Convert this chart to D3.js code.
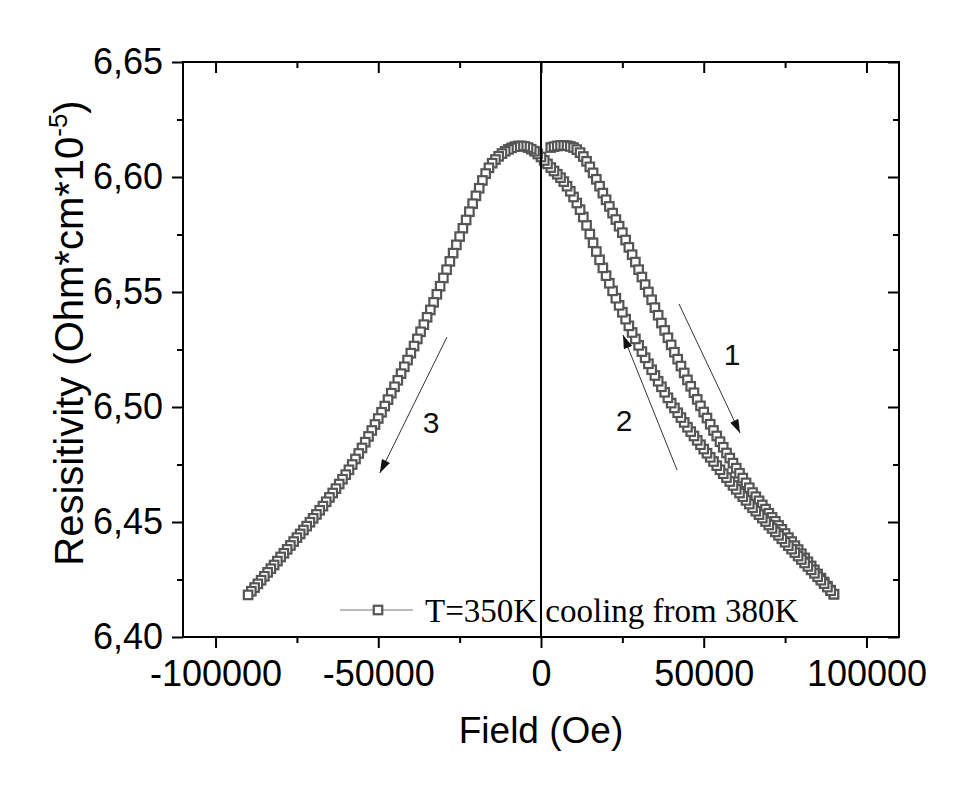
<!DOCTYPE html>
<html>
<head>
<meta charset="utf-8">
<script src="https://cdn.jsdelivr.net/npm/d3@7"></script>
<style>
  body { margin: 0; background: #fff; }
  svg { display: block; }
</style>
</head>
<body>
<div id="chart"></div>
<script>
// R(H) butterfly loop at T=350K: first sweep up to +90 kOe, then back down to -90 kOe.
// Field values in kOe (axis is in Oe), resistivity in Ohm*cm*1e-5.

const fieldUpKOe = [
  3, 4, 5, 6, 7, 8, 9, 10, 11, 12,
  13, 14, 15, 16, 17, 18, 19, 20, 21, 22,
  23, 24, 25, 26, 27, 28, 29, 30, 31, 32,
  33, 34, 35, 36, 37, 38, 39, 40, 41, 42,
  43, 44, 45, 46, 47, 48, 49, 50, 51, 52,
  53, 54, 55, 56, 57, 58, 59, 60, 61, 62,
  63, 64, 65, 66, 67, 68, 69, 70, 71, 72,
  73, 74, 75, 76, 77, 78, 79, 80, 81, 82,
  83, 84, 85, 86, 87, 88, 89, 90
];
const rhoUp = [
  6.6128, 6.6132, 6.6135, 6.6137, 6.6137, 6.6136, 6.6133, 6.6128, 6.6119, 6.6106,
  6.6089, 6.6068, 6.6044, 6.6018, 6.5990, 6.5960, 6.5930, 6.5901, 6.5872, 6.5843,
  6.5815, 6.5786, 6.5758, 6.5726, 6.5694, 6.5662, 6.5630, 6.5597, 6.5565, 6.5532,
  6.5500, 6.5466, 6.5432, 6.5399, 6.5365, 6.5333, 6.5301, 6.5270, 6.5238, 6.5208,
  6.5178, 6.5148, 6.5118, 6.5090, 6.5062, 6.5033, 6.5005, 6.4978, 6.4952, 6.4925,
  6.4898, 6.4874, 6.4849, 6.4825, 6.4800, 6.4778, 6.4756, 6.4734, 6.4712, 6.4691,
  6.4670, 6.4649, 6.4628, 6.4610, 6.4592, 6.4574, 6.4556, 6.4538, 6.4520, 6.4503,
  6.4485, 6.4468, 6.4450, 6.4432, 6.4415, 6.4397, 6.4380, 6.4362, 6.4344, 6.4327,
  6.4309, 6.4292, 6.4274, 6.4256, 6.4239, 6.4221, 6.4204, 6.4186
];

const fieldDownKOe = [
  90, 89, 88, 87, 86, 85, 84, 83, 82, 81,
  80, 79, 78, 77, 76, 75, 74, 73, 72, 71,
  70, 69, 68, 67, 66, 65, 64, 63, 62, 61,
  60, 59, 58, 57, 56, 55, 54, 53, 52, 51,
  50, 49, 48, 47, 46, 45, 44, 43, 42, 41,
  40, 39, 38, 37, 36, 35, 34, 33, 32, 31,
  30, 29, 28, 27, 26, 25, 24, 23, 22, 21,
  20, 19, 18, 17, 16, 15, 14, 13, 12, 11,
  10, 9, 8, 7, 6, 5, 4, 3, 2, 1,
  0, -1, -2, -3, -4, -5, -6, -7, -8, -9,
  -10, -11, -12, -13, -14, -15, -16, -17, -18, -19,
  -20, -21, -22, -23, -24, -25, -26, -27, -28, -29,
  -30, -31, -32, -33, -34, -35, -36, -37, -38, -39,
  -40, -41, -42, -43, -44, -45, -46, -47, -48, -49,
  -50, -51, -52, -53, -54, -55, -56, -57, -58, -59,
  -60, -61, -62, -63, -64, -65, -66, -67, -68, -69,
  -70, -71, -72, -73, -74, -75, -76, -77, -78, -79,
  -80, -81, -82, -83, -84, -85, -86, -87, -88, -89,
  -90
];
const rhoDown = [
  6.4186, 6.4201, 6.4217, 6.4232, 6.4247, 6.4262, 6.4277, 6.4292, 6.4307, 6.4322,
  6.4337, 6.4352, 6.4367, 6.4382, 6.4397, 6.4412, 6.4427, 6.4442, 6.4457, 6.4472,
  6.4487, 6.4502, 6.4517, 6.4532, 6.4547, 6.4562, 6.4578, 6.4594, 6.4610, 6.4626,
  6.4642, 6.4659, 6.4676, 6.4693, 6.4710, 6.4727, 6.4745, 6.4763, 6.4781, 6.4799,
  6.4817, 6.4836, 6.4855, 6.4874, 6.4893, 6.4912, 6.4933, 6.4954, 6.4975, 6.4996,
  6.5017, 6.5040, 6.5064, 6.5088, 6.5112, 6.5137, 6.5162, 6.5188, 6.5214, 6.5241,
  6.5268, 6.5296, 6.5324, 6.5353, 6.5382, 6.5412, 6.5442, 6.5473, 6.5505, 6.5538,
  6.5571, 6.5605, 6.5640, 6.5676, 6.5714, 6.5752, 6.5790, 6.5826, 6.5858, 6.5887,
  6.5913, 6.5938, 6.5960, 6.5980, 6.5997, 6.6012, 6.6026, 6.6041, 6.6057, 6.6072,
  6.6087, 6.6100, 6.6112, 6.6121, 6.6128, 6.6133, 6.6135, 6.6135, 6.6132, 6.6127,
  6.6120, 6.6112, 6.6102, 6.6090, 6.6076, 6.6060, 6.6040, 6.6015, 6.5985, 6.5951,
  6.5918, 6.5884, 6.5849, 6.5813, 6.5777, 6.5741, 6.5705, 6.5669, 6.5633, 6.5597,
  6.5561, 6.5525, 6.5490, 6.5455, 6.5422, 6.5390, 6.5358, 6.5327, 6.5296, 6.5265,
  6.5234, 6.5204, 6.5175, 6.5145, 6.5116, 6.5088, 6.5060, 6.5032, 6.5004, 6.4977,
  6.4950, 6.4924, 6.4898, 6.4872, 6.4847, 6.4822, 6.4798, 6.4774, 6.4750, 6.4727,
  6.4706, 6.4686, 6.4665, 6.4645, 6.4626, 6.4607, 6.4588, 6.4569, 6.4551, 6.4533,
  6.4516, 6.4499, 6.4482, 6.4465, 6.4448, 6.4432, 6.4415, 6.4398, 6.4381, 6.4364,
  6.4348, 6.4330, 6.4313, 6.4297, 6.4281, 6.4264, 6.4247, 6.4231, 6.4215, 6.4199,
  6.4183
];

const xTicks = [-100000, -50000, 0, 50000, 100000];
const xMinorTicks = [-75000, -25000, 25000, 75000];
const yTicks = [6.40, 6.45, 6.50, 6.55, 6.60, 6.65];
const yTickLabels = ['6,40', '6,45', '6,50', '6,55', '6,60', '6,65'];
const yMinorTicks = [6.425, 6.475, 6.525, 6.575, 6.625];

// sweep-direction arrows, in data units (field Oe, resistivity)
const sweepArrows = [
  { label: '1', from: [42400, 6.5448], to: [61150, 6.4887], at: [58700, 6.5183] },
  { label: '2', from: [41800, 6.4726], to: [25200, 6.5313], at: [25500, 6.4896] },
  { label: '3', from: [-28900, 6.5304], to: [-49500, 6.4713], at: [-33800, 6.4887] }
];
const legendLabel = 'T=350K cooling from 380K';

const width = 968, height = 791;
const margin = { top: 62, right: 69, bottom: 154, left: 183 };
const W = width - margin.left - margin.right;
const H = height - margin.top - margin.bottom;
const sans = '"Liberation Sans", Arial, Helvetica, sans-serif';
const serif = '"Liberation Serif", "Times New Roman", serif';
const markColor = '#555';

const x = d3.scaleLinear().domain([-110000, 110000]).range([0, W]);
const y = d3.scaleLinear().domain([6.40, 6.65]).range([H, 0]);

const svg = d3.select('#chart').append('svg')
  .attr('width', width).attr('height', height)
  .style('font-family', sans);

const defs = svg.append('defs');
defs.append('marker')
  .attr('id', 'head')
  .attr('viewBox', '0 0 12 8')
  .attr('refX', 12).attr('refY', 4)
  .attr('markerUnits', 'userSpaceOnUse')
  .attr('markerWidth', 14).attr('markerHeight', 9)
  .attr('orient', 'auto')
  .append('path').attr('d', 'M0,0L12,4L0,8Z').attr('fill', '#111');

const g = svg.append('g').attr('transform', `translate(${margin.left},${margin.top})`);

function styleAxis(sel) {
  sel.select('.domain').remove();
  sel.selectAll('.tick line').attr('stroke', '#000').attr('stroke-width', 2);
}

// bottom axis: outward ticks with labels (plain hyphen for minus, as in the original)
g.append('g').attr('transform', `translate(0,${H})`)
  .call(d3.axisBottom(x).tickValues(xTicks).tickSize(11).tickPadding(12).tickFormat(d => String(d)))
  .call(styleAxis)
  .selectAll('text').attr('font-size', 36).attr('font-family', sans).attr('fill', '#000');
g.append('g').attr('transform', `translate(0,${H})`)
  .call(d3.axisBottom(x).tickValues(xMinorTicks).tickSize(6).tickFormat(''))
  .call(styleAxis);

// left axis: outward ticks with labels
g.append('g')
  .call(d3.axisLeft(y).tickValues(yTicks).tickSize(11).tickPadding(9).tickFormat((d, i) => yTickLabels[i]))
  .call(styleAxis)
  .selectAll('text').attr('font-size', 36).attr('font-family', sans).attr('fill', '#000');
g.append('g')
  .call(d3.axisLeft(y).tickValues(yMinorTicks).tickSize(6).tickFormat(''))
  .call(styleAxis);

// mirrored top and right axes: inward ticks, no labels
g.append('g').call(d3.axisBottom(x).tickValues(xTicks).tickSize(11).tickFormat('')).call(styleAxis);
g.append('g').call(d3.axisBottom(x).tickValues(xMinorTicks).tickSize(6).tickFormat('')).call(styleAxis);
g.append('g').attr('transform', `translate(${W},0)`)
  .call(d3.axisLeft(y).tickValues(yTicks).tickSize(11).tickFormat('')).call(styleAxis);
g.append('g').attr('transform', `translate(${W},0)`)
  .call(d3.axisLeft(y).tickValues(yMinorTicks).tickSize(6).tickFormat('')).call(styleAxis);

// data
const upPts = fieldUpKOe.map((f, i) => ({ h: f * 1000, r: rhoUp[i] }));
const downPts = fieldDownKOe.map((f, i) => ({ h: f * 1000, r: rhoDown[i] }));
const allPts = upPts.concat(downPts);

const line = d3.line().x(d => x(d.h)).y(d => y(d.r));
g.append('path').datum(allPts)
  .attr('d', line).attr('fill', 'none')
  .attr('stroke', '#777').attr('stroke-width', 1);

const ms = 8.5;
g.selectAll('.pt').data(allPts).join('rect')
  .attr('class', 'pt')
  .attr('x', d => x(d.h) - ms / 2).attr('y', d => y(d.r) - ms / 2)
  .attr('width', ms).attr('height', ms)
  .attr('fill', '#fff').attr('stroke', markColor).attr('stroke-width', 2.2);

// zero-field line
g.append('line')
  .attr('x1', x(0)).attr('x2', x(0)).attr('y1', 0).attr('y2', H)
  .attr('stroke', '#000').attr('stroke-width', 2);

// sweep arrows
sweepArrows.forEach(a => {
  g.append('line')
    .attr('x1', x(a.from[0])).attr('y1', y(a.from[1]))
    .attr('x2', x(a.to[0])).attr('y2', y(a.to[1]))
    .attr('stroke', '#333').attr('stroke-width', 1)
    .attr('marker-end', 'url(#head)');
  g.append('text')
    .attr('x', x(a.at[0])).attr('y', y(a.at[1]))
    .attr('text-anchor', 'middle')
    .attr('font-size', 30).attr('fill', '#111')
    .text(a.label);
});

// frame
g.append('rect').attr('width', W).attr('height', H)
  .attr('fill', 'none').attr('stroke', '#000').attr('stroke-width', 2);

// legend
const lg = svg.append('g').attr('transform', 'translate(340,610)');
lg.append('line').attr('x1', 0).attr('x2', 73).attr('y1', 0).attr('y2', 0)
  .attr('stroke', '#777').attr('stroke-width', 1);
lg.append('rect').attr('x', 38 - ms / 2).attr('y', -ms / 2).attr('width', ms).attr('height', ms)
  .attr('fill', '#fff').attr('stroke', markColor).attr('stroke-width', 2.2);
lg.append('text').attr('x', 85).attr('y', 12)
  .attr('font-family', serif).attr('font-size', 33).attr('fill', '#000')
  .text(legendLabel);

// axis titles
svg.append('text')
  .attr('x', margin.left + x(0)).attr('y', 743)
  .attr('text-anchor', 'middle').attr('font-size', 37).attr('fill', '#000')
  .text('Field (Oe)');

const yt = svg.append('text')
  .attr('transform', 'translate(83,333) rotate(-90)')
  .attr('text-anchor', 'middle').attr('font-size', 40).attr('fill', '#000');
yt.append('tspan').text('Resisitivity (Ohm*cm*10');
yt.append('tspan').attr('font-size', 26).attr('dy', -16).text('-5');
yt.append('tspan').attr('dy', 16).text(')');
</script>
</body>
</html>
